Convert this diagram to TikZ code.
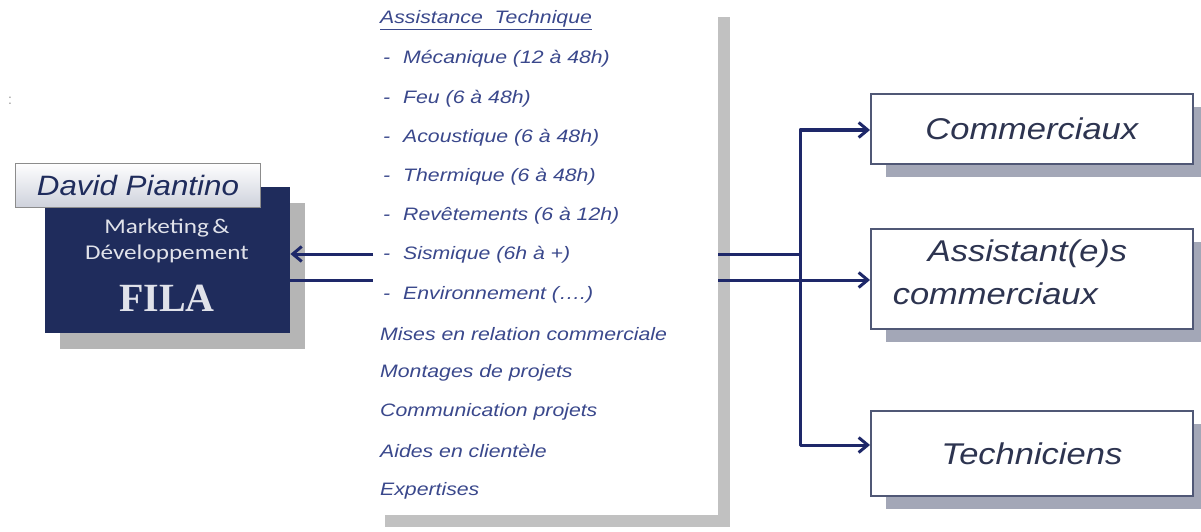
\documentclass[tikz,border=0pt]{standalone}
\usepackage{fontspec}
\setmainfont{Liberation Sans}
\newfontfamily\listfont[FakeStretch=1.18]{Liberation Sans}
\newfontfamily\boxfont[FakeStretch=1.15]{Liberation Sans}
\newfontfamily\davidfont[FakeStretch=1.12]{Liberation Sans}
\newfontfamily\mktfont[FakeStretch=1.2]{Carlito}
\newfontfamily\filafont{Liberation Serif}
\usetikzlibrary{arrows.meta,shadows}
\definecolor{navy}{RGB}{31,44,92}
\definecolor{listblue}{RGB}{58,72,140}
\definecolor{connblue}{RGB}{30,40,105}
\definecolor{boxtext}{RGB}{45,52,80}
\definecolor{boxline}{RGB}{80,88,118}
\definecolor{lightlbl}{RGB}{226,230,242}
\definecolor{mkttext}{RGB}{224,226,234}
\tikzset{
  panelbox/.style={rectangle, fill=white, inner sep=0,
    drop shadow={shadow xshift=12pt, shadow yshift=-12pt, fill=black!27, opacity=0.9}},
  filabox/.style={rectangle, fill=navy, inner sep=0,
    drop shadow={shadow xshift=15pt, shadow yshift=-16pt, fill=black!32, opacity=0.9}},
  davidbox/.style={rectangle, draw=black!45, line width=1pt, top color=white!95!lightlbl, bottom color=lightlbl!90!black!95,
    inner sep=0, font=\davidfont\itshape\fontsize{28}{30}\selectfont, text=navy},
  mkt/.style={font=\mktfont\fontsize{21}{24}\selectfont, text=mkttext, inner sep=0},
  fila/.style={font=\filafont\bfseries\fontsize{40}{44}\selectfont, text=mkttext, inner sep=0},
  item/.style={anchor=west, inner sep=0, text=listblue, font=\listfont\itshape\fontsize{18}{20}\selectfont},
  rbox/.style={rectangle, draw=boxline, line width=1.6pt, fill=white, inner sep=0,
    minimum width=322pt, text=boxtext, font=\boxfont\itshape\fontsize{30}{43}\selectfont,
    drop shadow={shadow xshift=15pt, shadow yshift=-13pt, fill=boxline!75!white, opacity=0.7}},
  conn/.style={draw=connblue, line width=3pt},
  tip/.tip={Straight Barb[length=9pt,width=15pt,line width=3pt]}
}
\newcommand{\dashitem}[1]{\makebox[20pt][l]{-}#1}
\begin{document}
\begin{tikzpicture}[x=1pt,y=-1pt]
\useasboundingbox (0,0) rectangle (1201,532);
% stray mark
\node[text=black!40, font=\fontsize{14}{14}\selectfont, inner sep=0] (mark) at (10,101) {:};
% central panel
\node[panelbox, anchor=north west, minimum width=345pt, minimum height=510pt] (panel) at (373,5) {};
% list items
\node[item] (l0)  at (380,20)    {\underline{Assistance\ \ Technique}};
\node[item] (l1)  at (383,59.2)  {\dashitem{Mécanique (12 à 48h)}};
\node[item] (l2)  at (383,98.4)  {\dashitem{Feu (6 à 48h)}};
\node[item] (l3)  at (383,137.6) {\dashitem{Acoustique (6 à 48h)}};
\node[item] (l4)  at (383,176.8) {\dashitem{Thermique\ (6 à 48h)}};
\node[item] (l5)  at (383,216)   {\dashitem{Revêtements (6 à 12h)}};
\node[item] (l6)  at (383,255.2) {\dashitem{Sismique (6h à +)}};
\node[item] (l7)  at (383,294.4) {\dashitem{Environnement\ (….)}};
\node[item] (l8)  at (380,333.6) {Mises en relation commerciale};
\node[item] (l9)  at (380,372.8) {Montages de projets};
\node[item] (l10) at (380,412)   {Communication projets};
\node[item] (l11) at (380,451.2) {Aides en clientèle};
\node[item] (l12) at (380,490.4) {Expertises};
% left box
\node[filabox, anchor=north west, minimum width=245pt, minimum height=146pt] (filab) at (45,187) {};
\node[davidbox, anchor=north west, minimum width=245pt, minimum height=44pt] (dp) at (15,163) {David Piantino};
\node[mkt] (mk1) at (167,228) {Marketing\,\&};
\node[mkt] (mk2) at (167,254) {Développement};
\node[fila] (fl) at (167,298) {FILA};
% right boxes
\node[rbox, anchor=north west, minimum height=70pt] (com) at (870,93) {Commerciaux};
\node[rbox, anchor=north west, minimum height=100pt, text width=278pt, inner xsep=22pt, align=left] (assist) at (870,228)
  {\hspace*{35pt}Assistant(e)s\\commerciaux\strut};
\node[rbox, anchor=north west, minimum height=85pt] (tech) at (870,410) {Techniciens};
% connectors
\coordinate (j) at (800,254);
\coordinate (jt) at (800,130);
\coordinate (jb) at (800,445);
\draw[conn, -tip] (panel.west |- 0,254) -- (filab.east |- 0,254);
\draw[conn] (filab.east |- 0,280) -- (panel.west |- 0,280);
\draw[conn] (panel.east |- 0,254) -- (j);
\draw[conn, -tip] (panel.east |- 0,280) -- (assist.west |- 0,280);
\draw[conn, tip-tip, line join=round] (com.west |- jt) -- (jt) -- (jb) -- (tech.west |- jb);
\end{tikzpicture}
\end{document}
